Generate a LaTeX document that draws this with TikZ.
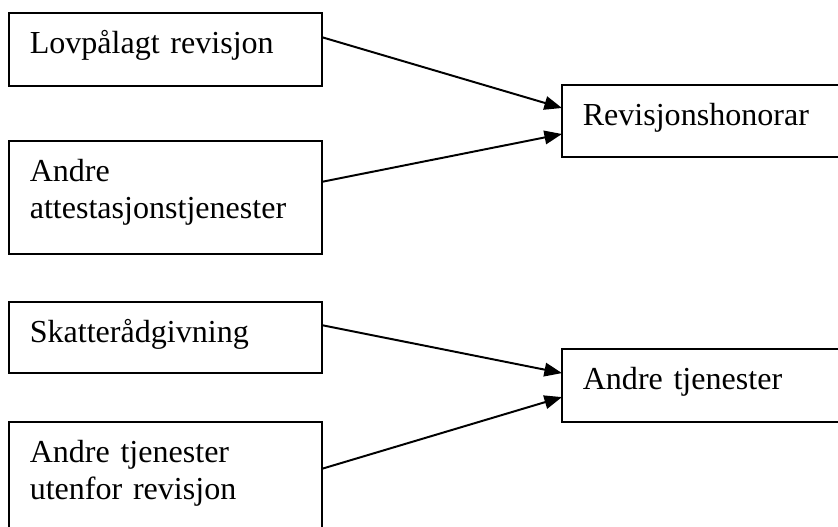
\documentclass[tikz,border=0pt]{standalone}
\usepackage{fontspec}
\setmainfont{Liberation Serif}
\usetikzlibrary{arrows.meta}

\tikzset{
  boks/.style={draw, line width=1.4pt, rectangle, anchor=north west, align=left,
    inner xsep=0.52cm, inner ysep=0pt, outer sep=0pt, text width=#1,
    text height=1.025cm, font=\fontsize{22.8}{26}\selectfont},
  pil/.style={-{Triangle[length=0.44cm,width=0.34cm]}, line width=1.4pt},
}

\begin{document}
\begin{tikzpicture}
        \clip (0cm, 0cm) rectangle (20.95cm, -13.175cm);
        \node (lov) [boks=6.775cm, text depth=0.8cm] at (0.225cm, -0.325cm) {Lovpålagt revisjon};
        \node (attest) [boks=6.775cm, text depth=1.8cm] at (0.225cm, -3.525cm) {Andre\\attestasjonstjenester};
        \node (honorar) [boks=7.5cm, text depth=0.775cm] at (14.05cm, -2.125cm) {Revisjonshonorar};
        \node (skatt) [boks=6.775cm, text depth=0.75cm] at (0.225cm, -7.55cm) {Skatterådgivning};
        \node (utenfor) [boks=6.775cm, text depth=1.8cm] at (0.225cm, -10.55cm) {Andre tjenester\\utenfor revisjon};
        \node (tjen) [boks=7.5cm, text depth=0.8cm] at (14.05cm, -8.725cm) {Andre tjenester};
        \draw ([yshift=0.31cm]lov.east) edge [pil] ([yshift=0.325cm]honorar.west);
        \draw ([yshift=0.39cm]attest.east) edge [pil] ([yshift=-0.325cm]honorar.west);
        \draw ([yshift=0.31cm]skatt.east) edge [pil] ([yshift=0.31cm]tjen.west);
        \draw ([yshift=0.24cm]utenfor.east) edge [pil] ([yshift=-0.29cm]tjen.west);
\end{tikzpicture}
\end{document}
